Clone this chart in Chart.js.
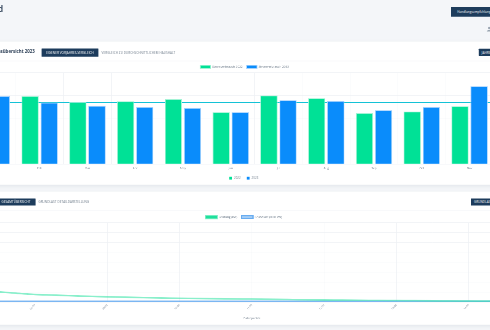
<!DOCTYPE html>
<html>
<head>
<meta charset="utf-8">
<script src="https://cdn.jsdelivr.net/npm/chart.js@4.4.0/dist/chart.umd.min.js"></script>
<style>
html, body { margin:0; padding:0; width:490px; height:330px; overflow:hidden; background:#f4f6f9; }
#page { position:absolute; left:0; top:0; width:1225px; height:825px; transform:scale(0.4); transform-origin:0 0; font-family:"Open Sans", sans-serif; }
.card { position:absolute; left:-20px; width:1265px; background:#fff; box-shadow:0 4px 10px rgba(30,50,80,0.09); }
.btn { position:absolute; background:#1d3c5c; color:#fff; font-size:7.5px; letter-spacing:0.2px; white-space:nowrap; box-sizing:border-box; border-radius:1px; }
.txt { position:absolute; white-space:nowrap; color:#6c7a89; font-size:7.5px; letter-spacing:0.2px; }
.rule { position:absolute; left:-20px; width:1265px; height:1px; background:#edf0f4; }
canvas { position:absolute; }
.sq { position:absolute; width:7px; height:7px; }
</style>
</head>
<body>
<div id="page">
  <div style="position:absolute; right:1217px; top:4px; font-size:23px; font-weight:600; color:#2b3e55; white-space:nowrap;">Dashboard</div>
  <div class="btn" style="left:1127px; top:17px; height:25px; line-height:25px; padding-left:16px; width:140px;">Handlungsempfehlungen</div>
  <svg style="position:absolute; left:1216px; top:66px;" width="14" height="14" viewBox="0 0 14 14"><circle cx="7" cy="4" r="3" fill="#9aa5b1"/><path d="M1 13 C1 8 13 8 13 13 Z" fill="#9aa5b1"/></svg>

  <div class="card" style="top:104px; height:358px;"></div>
  <div style="position:absolute; right:1138px; top:120px; font-size:11px; font-weight:700; color:#2b3e55; white-space:nowrap; line-height:16px;">Verbrauchsübersicht 2023</div>
  <div class="btn" style="left:104px; top:121px; width:142px; height:21px; line-height:21px; text-align:center;">EIGENER VORJAHRES-VERGLEICH</div>
  <div class="txt" style="left:254px; top:125px; line-height:12px;">VERGLEICH ZU DURCHSCHNITTLICHEM HAUSHALT</div>
  <div class="btn" style="left:1197px; top:122px; width:90px; height:18px; line-height:18px; padding-left:7px;">JAHRESANSICHT</div>
  <div class="rule" style="top:152px;"></div>
  <canvas id="barChart" width="1483" height="277" style="left:-130px; top:153px;"></canvas>
  <div class="sq" style="left:573px; top:442px; background:#00e196;"></div>
  <div class="txt" style="left:585px; top:439px; font-size:7px; line-height:12px;">2022</div>
  <div class="sq" style="left:617px; top:442px; background:#0a8cfb;"></div>
  <div class="txt" style="left:629px; top:439px; font-size:7px; line-height:12px;">2023</div>

  <div class="card" style="top:479px; height:333px;"></div>
  <div class="btn" style="left:-4px; top:496px; width:93px; height:18px; line-height:18px; padding-left:8px;">GESAMTÜBERSICHT</div>
  <div class="txt" style="left:96px; top:498px; line-height:12px;">GRUNDLAST DETAILDARSTELLUNG</div>
  <div class="btn" style="left:1177px; top:496px; width:100px; height:18px; line-height:18px; padding-left:8px;">GRUNDLAST ANALYSE</div>
  <div class="rule" style="top:525px;"></div>
  <canvas id="lineChart" width="1867" height="275" style="left:-324px; top:529px;"></canvas>
</div>

<script>
// Monatsverbrauch (kWh)
var monate = ['Jan', 'Feb', 'Mar', 'Apr', 'May', 'Jun', 'Jul', 'Aug', 'Sep', 'Oct', 'Nov', 'Dec'];
var verbrauch2022 = [310, 297, 270, 274, 283, 226, 299, 287, 222, 229, 252, 290];
var verbrauch2023 = [297, 268, 254, 249, 245, 226, 278, 275, 235, 249, 339, 320];
var durchschnitt = 268;

// Grundlast-Detail: Leistung je Datenpunkt (kW)
var tickZeiten = ['06:00', '07:00', '08:00', '09:00', '10:00', '11:00', '12:00', '13:00', '14:00', '15:00', '16:00'];
var leistung = [1.90, 1.70, 1.52, 1.38, 1.25, 1.12, 1.02, 0.88, 0.76, 0.70, 0.63,
                0.57, 0.52, 0.48, 0.44, 0.40, 0.37, 0.35, 0.33, 0.31, 0.30,
                0.27, 0.25, 0.22, 0.20, 0.19, 0.17, 0.16, 0.15, 0.14, 0.12,
                0.11, 0.10, 0.09, 0.09, 0.08, 0.08, 0.07, 0.07, 0.07, 0.07];
var grundlast = 0.08;

Chart.defaults.font.family = '"Open Sans", sans-serif';
Chart.defaults.color = '#6c7a89';

var gridFarbe = '#eef1f4';

new Chart(document.getElementById('barChart'), {
    type: 'bar',
    data: {
        labels: monate,
        datasets: [
            { label: 'Stromverbrauch 2022', data: verbrauch2022, backgroundColor: '#00e196', borderColor: '#a2f3d5', borderWidth: 2, order: 1 },
            { label: 'Stromverbrauch 2023', data: verbrauch2023, backgroundColor: '#0a8cfb', borderColor: '#a6d2fd', borderWidth: 2, order: 1 },
            { type: 'line', label: 'Durchschnitt', data: monate.map(function(){ return durchschnitt; }), borderColor: '#14c2d6', borderWidth: 3, pointRadius: 0, order: 2 }
        ]
    },
    options: {
        responsive: false,
        animation: false,
        layout: { padding: 0 },
        plugins: {
            legend: {
                position: 'top',
                labels: {
                    font: { size: 7.5 }, boxWidth: 26, boxHeight: 8, padding: 10,
                    filter: function(item){ return item.datasetIndex < 2; }
                }
            },
            tooltip: { enabled: false }
        },
        scales: {
            x: {
                grid: { color: gridFarbe, drawTicks: false },
                border: { color: '#e3e7ec' },
                ticks: { font: { size: 7.5 }, color: '#7a8795', padding: 6 },
                afterFit: function(s){ s.height = 20; }
            },
            y: {
                min: 0, max: 400,
                ticks: { stepSize: 100, display: false },
                grid: { color: gridFarbe, drawTicks: false },
                border: { display: false },
                afterFit: function(s){ s.width = 50; }
            }
        }
    }
});

// nur jeder vierte Punkt bekommt eine Beschriftung
var punkte = leistung.map(function(v, i){ return i % 4 === 0 ? tickZeiten[i / 4] : ''; });

new Chart(document.getElementById('lineChart'), {
    type: 'line',
    data: {
        labels: punkte,
        datasets: [
            { label: 'Leistung (kW)', data: leistung, borderColor: 'rgba(40,225,160,0.55)', backgroundColor: '#1fe09c', borderWidth: 4, pointRadius: 0, tension: 0.3 },
            { label: 'Grundlast (0.08 kW)', data: punkte.map(function(){ return grundlast; }), borderColor: '#68acf0', backgroundColor: '#a9d0f7', borderWidth: 3, pointRadius: 0 }
        ]
    },
    options: {
        responsive: false,
        animation: false,
        layout: { padding: 0 },
        plugins: {
            legend: { position: 'top', labels: { font: { size: 7.5 }, boxWidth: 29, boxHeight: 7, padding: 10 } },
            tooltip: { enabled: false }
        },
        scales: {
            x: {
                offset: false,
                grid: { drawTicks: false, color: function(ctx){ return ctx.index % 4 === 0 ? gridFarbe : 'rgba(0,0,0,0)'; } },
                border: { color: '#e3e7ec' },
                ticks: { autoSkip: false, minRotation: 45, maxRotation: 45, font: { size: 6.5 }, color: '#8a96a3', padding: 4 },
                title: { display: true, text: 'Datenpunkte', font: { size: 7 }, padding: { top: 4, bottom: 4 } },
                afterFit: function(s){ s.height = 49; }
            },
            y: {
                min: 0, max: 8,
                ticks: { stepSize: 1, display: false },
                grid: { color: gridFarbe, drawTicks: false },
                border: { display: false },
                afterFit: function(s){ s.width = 50; }
            }
        }
    }
});
</script>
</body>
</html>
